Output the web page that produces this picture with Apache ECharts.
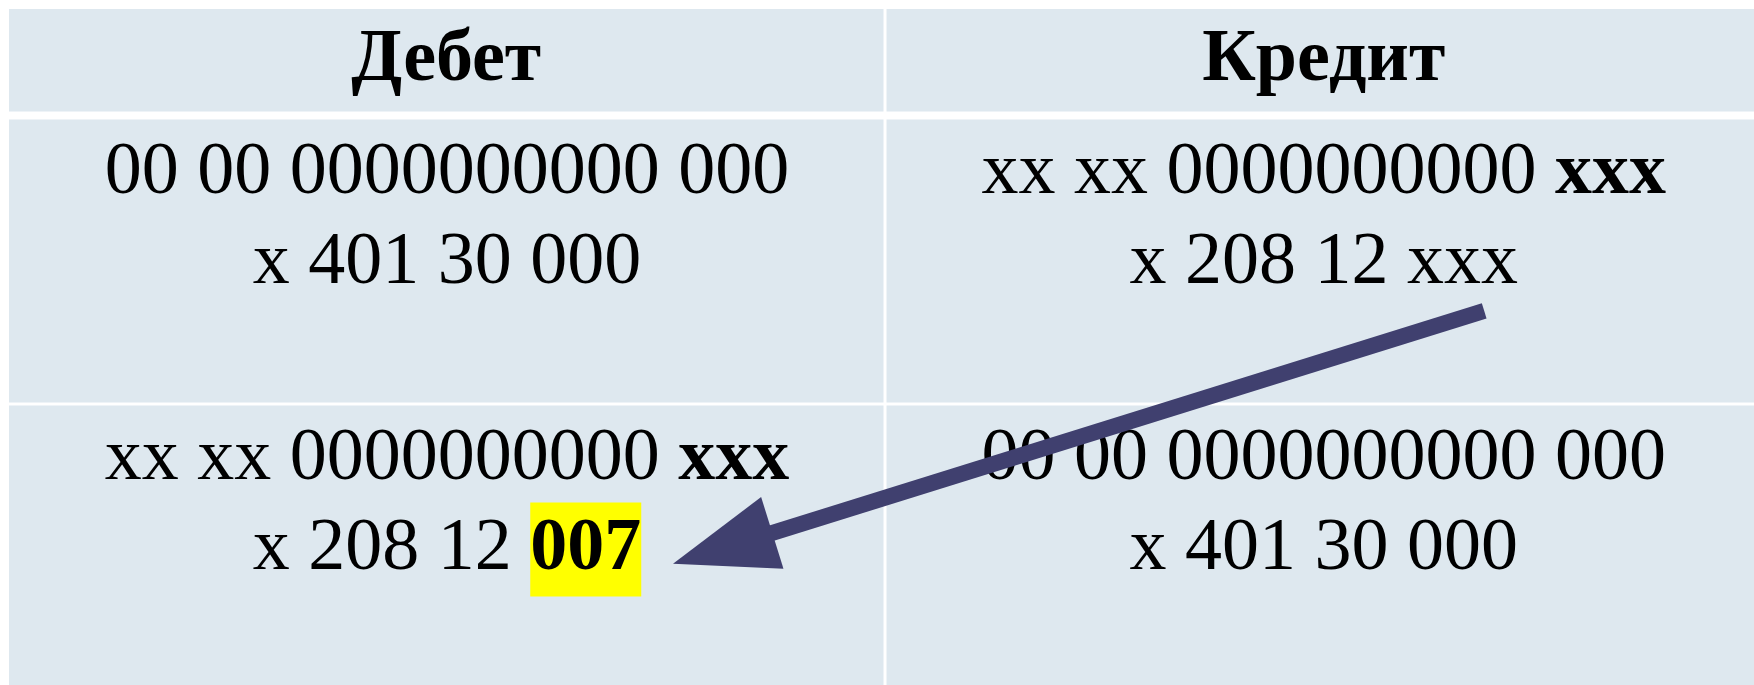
<!DOCTYPE html>
<html lang="ru">
<head>
  <meta charset="UTF-8">
  <title>Дебет / Кредит</title>
  <script src="https://cdn.jsdelivr.net/npm/echarts@6/dist/echarts.min.js"></script>
  <style>
    html, body { margin: 0; padding: 0; background: #ffffff; }
    #chart { width: 1754px; height: 685px; }
  </style>
</head>
<body>
<div id="chart"></div>
<script>
  // колонки таблицы
  const headers = ['Дебет', 'Кредит'];
  // строки: по одной записи на ячейку, {b|} жирный, {hl|} выделен жёлтым
  const debitCells = [
    '00 00 0000000000 000\nx 401 30 000',
    'xx xx 0000000000 {b|xxx}\nx 208 12 {hl|007}'
  ];
  const creditCells = [
    'xx xx 0000000000 {b|xxx}\nx 208 12 xxx',
    '00 00 0000000000 000\nx 401 30 000'
  ];
  // стрелка в единицах таблицы (колонка, строка)
  const arrowFrom = [1.684, 0.673];
  const arrowTo = [0.758, 1.562];

  const FONT = "'Liberation Serif', 'Times New Roman', serif";
  const CELL_BG = '#dee8ef';
  const ARROW = '#40406f';
  // правая колонка и нижняя строка немного срезаны краем картинки
  const X_MAX = 1.992;
  const Y_MAX = 1.988;

  const headerData = headers.map((h, i) => [i, 0, h]);
  const bodyData = [];
  debitCells.forEach((t, r) => bodyData.push([0, r, t]));
  creditCells.forEach((t, r) => bodyData.push([1, r, t]));

  function cellRect(api, c, r, nRows) {
    const p0 = api.coord([c, r]);
    const p1 = api.coord([c + 1, r + 1]);
    let x0 = p0[0], y0 = p0[1], x1 = p1[0], y1 = p1[1];
    if (c > 0) x0 += 1.5;
    if (c < headers.length - 1) x1 -= 1.5;
    if (r > 0) y0 += 1.5;
    if (r < nRows - 1) y1 -= 1.5;
    return { x: x0, y: y0, width: x1 - x0, height: y1 - y0 };
  }

  function headerItem(params, api) {
    const rect = cellRect(api, api.value(0), api.value(1), 1);
    return {
      type: 'group',
      children: [
        { type: 'rect', shape: rect, style: { fill: CELL_BG } },
        {
          type: 'text',
          x: rect.x + rect.width / 2,
          y: rect.y + rect.height / 2 + 1,
          style: {
            text: headerData[params.dataIndex][2],
            fontFamily: FONT, fontSize: 74, fontWeight: 'bold',
            fill: '#000', align: 'center', verticalAlign: 'middle'
          }
        }
      ]
    };
  }

  const rich = {
    b: { fontFamily: FONT, fontSize: 74, fontWeight: 'bold', lineHeight: 90, fill: '#000' },
    hl: {
      fontFamily: FONT, fontSize: 74, fontWeight: 'bold', lineHeight: 90,
      backgroundColor: '#ffff00', padding: [10, 0, 10, 0], fill: '#000'
    }
  };

  function bodyItem(params, api) {
    const rect = cellRect(api, api.value(0), api.value(1), 2);
    return {
      type: 'group',
      children: [
        { type: 'rect', shape: rect, style: { fill: CELL_BG } },
        {
          type: 'text',
          x: rect.x + (api.coord([api.value(0) + 1, 0])[0] - rect.x) / 2,
          y: rect.y + 9,
          style: {
            text: bodyData[params.dataIndex][2],
            fontFamily: FONT, fontSize: 74, lineHeight: 90,
            fill: '#000', align: 'center', verticalAlign: 'top',
            rich: rich
          }
        }
      ]
    };
  }

  function arrowItem(params, api) {
    const a = api.coord([api.value(0), api.value(1)]);
    const b = api.coord([api.value(2), api.value(3)]);
    const dx = a[0] - b[0], dy = a[1] - b[1];
    const len = Math.sqrt(dx * dx + dy * dy);
    const ux = dx / len, uy = dy / len;
    const headLen = 104, headHalf = 37.5;
    const mx = b[0] + ux * headLen, my = b[1] + uy * headLen;
    return {
      type: 'group',
      children: [
        {
          type: 'line',
          shape: { x1: a[0], y1: a[1], x2: mx - ux * 4, y2: my - uy * 4 },
          style: { stroke: ARROW, lineWidth: 16, lineCap: 'butt' }
        },
        {
          type: 'polygon',
          shape: { points: [
            [b[0], b[1]],
            [mx - uy * headHalf, my + ux * headHalf],
            [mx + uy * headHalf, my - ux * headHalf]
          ] },
          style: { fill: ARROW }
        }
      ]
    };
  }

  const chart = echarts.init(document.getElementById('chart'));
  chart.setOption({
    backgroundColor: '#ffffff',
    animation: false,
    grid: [
      { left: 9, top: 9, right: 0, height: 102.5 },
      { left: 9, top: 119.5, right: 0, bottom: 0 }
    ],
    xAxis: [
      { gridIndex: 0, type: 'value', min: 0, max: X_MAX, show: false },
      { gridIndex: 1, type: 'value', min: 0, max: X_MAX, show: false }
    ],
    yAxis: [
      { gridIndex: 0, type: 'value', min: 0, max: 1, inverse: true, show: false },
      { gridIndex: 1, type: 'value', min: 0, max: Y_MAX, inverse: true, show: false }
    ],
    series: [
      {
        type: 'custom', xAxisIndex: 0, yAxisIndex: 0,
        renderItem: headerItem,
        data: headerData.map(d => [d[0], d[1]])
      },
      {
        type: 'custom', xAxisIndex: 1, yAxisIndex: 1,
        renderItem: bodyItem,
        data: bodyData.map(d => [d[0], d[1]])
      },
      {
        type: 'custom', xAxisIndex: 1, yAxisIndex: 1,
        renderItem: arrowItem,
        encode: { x: [0, 2], y: [1, 3] },
        data: [[arrowFrom[0], arrowFrom[1], arrowTo[0], arrowTo[1]]]
      }
    ]
  });
</script>
</body>
</html>
